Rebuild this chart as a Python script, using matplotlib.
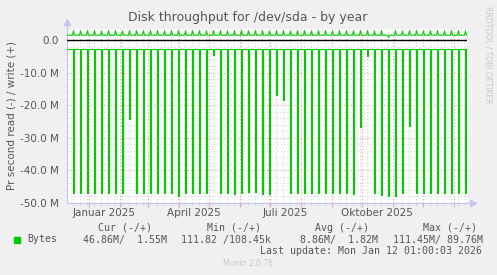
import numpy as np
import matplotlib
matplotlib.use('Agg')
import matplotlib.pyplot as plt
import matplotlib.dates as mdates
from datetime import datetime, timedelta

# read spikes (MB/s, drawn negative), one per Monday starting 16 Dec 2024
read_spike = [46.8, 46.8, 46.8, 46.8, 46.8, 46.8, 46.8, 46.8, 24.3, 46.8,
              46.8, 46.8, 46.8, 46.8, 46.8, 48.0, 46.8, 46.8, 46.8, 46.8,
              4.5, 46.8, 46.8, 47.2, 46.8, 46.6, 46.5, 47.3, 47.3, 17.0,
              18.5, 46.8, 46.8, 47.0, 47.0, 47.0, 47.0, 46.8, 46.8, 47.0,
              47.3, 26.6, 5.0, 46.8, 47.5, 47.8, 48.0, 46.8, 26.3, 46.8,
              46.8, 47.0, 47.0, 47.0, 46.8, 47.0, 46.8]
# write peaks (MB/s) on the same days
write_peak = [2.9, 2.8, 2.9, 2.9, 2.8, 2.9, 2.9, 2.8, 2.9, 2.9,
              2.8, 2.9, 2.9, 2.8, 2.9, 2.9, 2.8, 2.9, 2.9, 2.8,
              2.9, 2.9, 2.8, 2.9, 2.9, 2.8, 2.9, 2.9, 2.8, 2.9,
              2.9, 2.8, 2.9, 2.9, 2.8, 2.9, 2.9, 2.8, 2.9, 2.9,
              2.8, 2.9, 2.9, 2.8, 2.9, 0.8, 2.9, 2.8, 2.9, 2.9,
              2.8, 2.9, 2.9, 2.8, 2.9, 2.9, 2.8]
read_base = 2.7
write_base = 1.5

first_spike = datetime(2024, 12, 16)
start = datetime(2024, 12, 10)
end = datetime(2026, 1, 14)
last_data = datetime(2026, 1, 13)

y_ticks = [0, -10, -20, -30, -40, -50]
y_labels = ['0.0', '-10.0 M', '-20.0 M', '-30.0 M', '-40.0 M', '-50.0 M']
month_labels = ['Januar 2025', 'April 2025', 'Juli 2025', 'Oktober 2025']
month_label_dates = [datetime(2025, 1, 16), datetime(2025, 4, 16),
                     datetime(2025, 7, 16), datetime(2025, 10, 16)]

n_days = (last_data - start).days + 1
dates = [start + timedelta(days=i) for i in range(n_days)]
read = np.full(n_days, -read_base)
write = np.full(n_days, write_base)
for k, (r, w) in enumerate(zip(read_spike, write_peak)):
    idx = (first_spike + timedelta(days=7 * k) - start).days
    read[idx] = -r
    write[idx] = w

W, H = 497, 275
GREEN = '#00CC00'
TXT = '#555555'
AXC = '#C4C4F0'

fig = plt.figure(figsize=(W / 100, H / 100), dpi=100, facecolor='#F0F0F0')
ax = fig.add_axes([67 / W, 1 - 203 / H, 400 / W, 174 / H])
ax.set_facecolor('white')

x = mdates.date2num(dates)
ax.plot(x, read, color=GREEN, lw=0.8, drawstyle='steps-post', zorder=4)
ax.plot(x + 0.5, write, color=GREEN, lw=0.8, zorder=4)
ax.axhline(0, color='black', lw=1.0, zorder=3)

ax.set_xlim(mdates.date2num(start), mdates.date2num(end))
ax.set_ylim(-50, 3.4)

ax.xaxis.set_major_locator(mdates.MonthLocator())
ax.xaxis.set_minor_locator(mdates.WeekdayLocator(byweekday=mdates.MO))
ax.xaxis.set_major_formatter(plt.NullFormatter())
ax.set_yticks(y_ticks)
ax.set_yticklabels(y_labels)
ax.set_yticks(np.arange(-50, 3, 2), minor=True)

ax.grid(which='major', color='#EBA0A0', linestyle=(0, (1, 2)), lw=0.8, zorder=1)
ax.grid(which='minor', color='#D8D8D8', linestyle=(0, (1, 2)), lw=0.8, zorder=0)
ax.set_axisbelow(True)

ax.tick_params(axis='y', which='both', length=0, labelsize=7.5, labelcolor=TXT, pad=6)
ax.tick_params(axis='x', which='major', length=3, color='#EBA0A0', direction='out')
ax.tick_params(axis='x', which='minor', length=2, color='#D8D8D8', direction='out')

for s in ['top', 'right']:
    ax.spines[s].set_visible(False)
for s in ['left', 'bottom']:
    ax.spines[s].set_color(AXC)
    ax.spines[s].set_linewidth(0.8)

# axis arrows like rrdtool
ax.plot([0, 0], [1.0, 1.035], transform=ax.transAxes, color=AXC, lw=0.8, clip_on=False)
ax.plot([0], [1.04], transform=ax.transAxes, marker='^', ms=4, color=AXC, clip_on=False)
ax.plot([1.0, 1.01], [0, 0], transform=ax.transAxes, color=AXC, lw=0.8, clip_on=False)
ax.plot([1.015], [0], transform=ax.transAxes, marker='>', ms=4, color=AXC, clip_on=False)

for d, lab in zip(month_label_dates, month_labels):
    ax.text(mdates.date2num(d), -53.2, lab, ha='center', va='center',
            fontsize=7.5, color=TXT)


def px(xp, yp):
    return xp / W, 1 - yp / H


fig.text(*px(248, 18), 'Disk throughput for /dev/sda - by year', ha='center',
         va='center', fontsize=9, color=TXT)
fig.text(*px(12, 116), 'Pr second read (-) / write (+)', rotation=90,
         ha='center', va='center', fontsize=7.5, color=TXT)
fig.text(*px(488, 55), 'RRDTOOL / TOBI OETIKER', rotation=270,
         ha='center', va='center', fontsize=5.5, color='#C8C8C8')

mono = dict(family='DejaVu Sans Mono', fontsize=7.1, color=TXT, va='center')
fig.text(*px(98, 228), 'Cur (-/+)', ha='left', **mono)
fig.text(*px(207, 228), 'Min (-/+)', ha='left', **mono)
fig.text(*px(315, 228), 'Avg (-/+)', ha='left', **mono)
fig.text(*px(477, 228), 'Max (-/+)', ha='right', **mono)

fig.patches.append(plt.Rectangle(px(14, 242.5), 5.5 / W, 5.5 / H,
                                 transform=fig.transFigure, color=GREEN))
fig.text(*px(27, 239.5), 'Bytes', ha='left', **mono)
fig.text(*px(167, 239.5), '46.86M/  1.55M', ha='right', **mono)
fig.text(*px(271, 239.5), '111.82 /108.45k', ha='right', **mono)
fig.text(*px(378, 239.5), '8.86M/  1.82M', ha='right', **mono)
fig.text(*px(483, 239.5), '111.45M/ 89.76M', ha='right', **mono)
fig.text(*px(482, 251), 'Last update: Mon Jan 12 01:00:03 2026', ha='right', **mono)

fig.text(*px(248, 264), 'Munin 2.0.76', ha='center', va='center',
         fontsize=5.5, color='#C8C8C8')

fig.savefig('out.png', dpi=100, facecolor=fig.get_facecolor())
